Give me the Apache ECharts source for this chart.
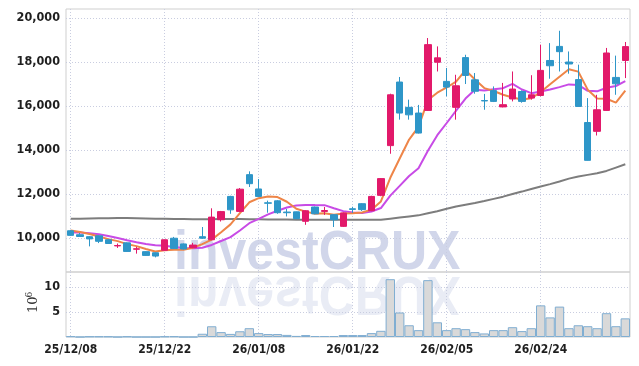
<!DOCTYPE html>
<html><head><meta charset="utf-8">
<script src="https://cdn.jsdelivr.net/npm/echarts@6/dist/echarts.min.js"></script>
<style>html,body{margin:0;padding:0;background:#fff}#c{width:639px;height:366px}</style>
</head><body><div id="c"></div>
<script>
const dates = ['25/12/08','25/12/09','25/12/10','25/12/11','25/12/12','25/12/15','25/12/16','25/12/17','25/12/18','25/12/19',
'25/12/22','25/12/23','25/12/24','25/12/26','25/12/29','25/12/30','26/01/02','26/01/05','26/01/06','26/01/07',
'26/01/08','26/01/09','26/01/12','26/01/13','26/01/14','26/01/15','26/01/16','26/01/19','26/01/20','26/01/21',
'26/01/22','26/01/23','26/01/26','26/01/27','26/01/28','26/01/29','26/01/30','26/02/02','26/02/03','26/02/04',
'26/02/05','26/02/06','26/02/09','26/02/10','26/02/11','26/02/12','26/02/13','26/02/19','26/02/20','26/02/23',
'26/02/24','26/02/25','26/02/26','26/02/27','26/03/03','26/03/04','26/03/05','26/03/06','26/03/09','26/03/10'];
const opens = [10330,10150,10060,10100,9920,9640,9780,9490,9380,9330,
9440,9990,9730,9560,10060,9920,10830,11890,11210,12880,
12230,11600,11690,11180,11190,10760,11410,11210,11060,10530,
11330,11560,11240,11940,14200,17090,15940,15680,15800,17990,
17120,15940,18200,17190,16250,16700,15960,16320,16660,16360,
16480,18070,18710,18000,17200,15250,14850,15800,17300,18070];
const closes = [10120,10070,9960,9850,9750,9660,9390,9510,9210,9180,
9920,9520,9500,9680,9990,10950,11200,11280,12220,12470,
11890,11580,11150,11150,10880,11240,11100,11250,10830,11140,
11300,11290,11890,12700,16510,15680,15600,14770,18790,18190,
16860,16920,17390,16670,16230,16210,16060,16770,16210,16510,
17620,17830,18470,17910,15980,13530,15830,18410,17010,18700];
const lows = [10100,10060,9620,9770,9740,9550,9380,9290,9200,9120,
9430,9510,9480,9540,9960,9900,10750,11100,11180,12320,
11860,11150,11100,10980,10870,10600,11080,11050,10500,10500,
11140,11230,11220,11900,13830,15380,15380,14750,15780,17570,
16440,15380,17000,16560,15830,16180,15940,16210,16150,16290,
16440,17240,17570,17470,15980,13520,14660,15780,16510,17270];
const highs = [10370,10230,10080,10120,9950,9750,9800,9600,9390,9340,
9930,10050,9750,9780,10500,11350,11230,11920,12270,13030,
12680,11700,11720,11320,11200,11260,11430,11410,11080,11160,
11420,11580,11920,12720,16560,17320,16290,16050,19090,18710,
17730,17420,18330,17500,16550,16890,17050,17570,16710,17400,
18790,18860,19420,18480,17880,16360,16510,18640,18290,18910];
const ma5 = [10345,10270,10180,10070,9950,9858,9722,9632,9504,9390,
9442,9468,9466,9560,9722,9928,10264,10620,11128,11624,
11812,11888,11862,11648,11330,11200,11104,11124,11060,11112,
11124,11162,11290,11664,12738,13614,14476,15052,16270,16606,
16842,17106,17630,17206,16814,16684,16512,16388,16296,16352,
16634,16988,17328,17668,17562,16744,16344,16332,16152,16696];
const ma10 = [10255,10250,10220,10170,10090,10000,9900,9810,9730,9670,
9650,9595,9549,9532,9556,9685,9866,10043,10344,10673,
10870,11076,11241,11388,11477,11506,11496,11493,11354,11221,
11162,11133,11207,11362,11925,12369,12819,13171,13967,14672,
15228,15791,16341,16738,16710,16763,16809,17009,16751,16583,
16659,16750,16858,16982,16957,16689,16666,16830,16910,17129];
const maLong = [10870,10880,10890,10900,10900,10910,10910,10900,10890,10880,
10870,10860,10860,10850,10850,10850,10860,10860,10860,10850,
10850,10840,10840,10840,10830,10830,10830,10830,10830,10830,
10830,10830,10830,10830,10880,10930,10980,11030,11130,11220,
11330,11430,11510,11590,11680,11780,11880,12000,12110,12230,
12340,12450,12570,12700,12800,12870,12940,13050,13200,13350];
const volumes = [0.15,0,0.1,0.1,0.1,0,0.1,0,0,0,
0.1,0.12,0,0,0.65,2.15,0.98,0.62,1.15,1.76,
0.78,0.59,0.59,0.42,0.22,0.39,0.2,0.2,0.2,0.39,
0.39,0.39,0.78,1.24,11.56,4.9,2.35,1.37,11.37,2.94,
1.37,1.76,1.57,0.98,0.71,1.37,1.37,1.96,1.18,1.76,
6.33,3.92,6.08,1.76,2.35,2.16,1.76,4.76,2.16,3.73];
const priceTicks = [10000,12000,14000,16000,18000,20000];
const volumeTicks = [5,10];

const UP = '#E2196A', DOWN = '#2E96C8';
const gridColor = '#c9cde0';
const labelFont = "'DejaVu Sans Condensed','Liberation Sans Narrow','DejaVu Sans',sans-serif";
const candleData = opens.map((o, i) => [o, closes[i], lows[i], highs[i]]);

const chart = echarts.init(document.getElementById('c'), null, {renderer: 'canvas'});
const xCommon = {
  type: 'category', data: dates, boundaryGap: true,
  axisLine: {show: false}, axisTick: {show: false},
  splitLine: {show: true, interval: 9, alignWithLabel: true, lineStyle: {color: gridColor, type: [1, 2], width: 1}}
};
const wmFont = "bold 55px 'Liberation Sans', Arial, sans-serif";
chart.setOption({
  animation: false,
  grid: [
    {left: 66, right: 9, top: 9, height: 263, show: true, borderColor: '#cfcfcf', borderWidth: 1, backgroundColor: 'transparent'},
    {left: 66, right: 9, top: 272, height: 65, show: true, borderColor: '#cfcfcf', borderWidth: 1, backgroundColor: 'transparent'}
  ],
  xAxis: [
    Object.assign({}, xCommon, {gridIndex: 0, axisLabel: {show: false}}),
    Object.assign({}, xCommon, {gridIndex: 1, axisLabel: {show: true, interval: 9, margin: 7, color: '#1e1e1e', fontSize: 12, fontWeight: 'bold', fontFamily: labelFont}})
  ],
  yAxis: [
    {type: 'value', gridIndex: 0, min: 8455, max: 20410, scale: true,
     axisLine: {show: false}, axisTick: {show: false, customValues: priceTicks},
     axisLabel: {customValues: priceTicks, color: '#1e1e1e', fontSize: 12.5, fontWeight: 'bold', fontFamily: labelFont, margin: 6},
     splitLine: {show: true, lineStyle: {color: gridColor, type: [1, 2], width: 1}}},
    {type: 'value', gridIndex: 1, min: 0, max: 13,
     axisLine: {show: false}, axisTick: {show: false, customValues: volumeTicks},
     axisLabel: {customValues: volumeTicks, color: '#1e1e1e', fontSize: 12.5, fontWeight: 'bold', fontFamily: labelFont, margin: 6},
     splitLine: {show: true, lineStyle: {color: gridColor, type: [1, 2], width: 1}}}
  ],
  graphic: [
    {type: 'group', x: 174, y: 273, scaleX: 0.91, z: -5, silent: true, children: [
      {type: 'text', x: 0, y: -19, style: {text: 'investCRUX', font: wmFont, fill: 'rgba(145,158,205,0.42)', verticalAlign: 'middle', align: 'left'}}
    ]},
    {type: 'group', x: 174, y: 273, scaleX: 0.91, scaleY: -1, z: -5, silent: true, children: [
      {type: 'text', x: 0, y: -19, style: {text: 'investCRUX', font: wmFont, fill: 'rgba(145,158,205,0.2)', verticalAlign: 'middle', align: 'left'}}
    ]},
    {type: 'text', x: 34, y: 313, rotation: Math.PI / 2, style: {text: '10', font: "13px 'DejaVu Serif', serif", fill: '#333', verticalAlign: 'middle', align: 'left'}},
    {type: 'text', x: 29.5, y: 297.5, rotation: Math.PI / 2, style: {text: '6', font: "9px 'DejaVu Serif', serif", fill: '#333', verticalAlign: 'middle', align: 'left'}}
  ],
  series: [
    {type: 'line', name: 'MA60', xAxisIndex: 0, yAxisIndex: 0, data: maLong, symbol: 'none', lineStyle: {color: '#7d7d7d', width: 2}, z: 3},
    {type: 'line', name: 'MA10', xAxisIndex: 0, yAxisIndex: 0, data: ma10, symbol: 'none', lineStyle: {color: '#C84BE6', width: 2}, z: 4},
    {type: 'line', name: 'MA5', xAxisIndex: 0, yAxisIndex: 0, data: ma5, symbol: 'none', lineStyle: {color: '#EE8548', width: 2}, z: 5},
    {type: 'candlestick', xAxisIndex: 0, yAxisIndex: 0, data: candleData, barWidth: 7, z: 6,
     itemStyle: {color: UP, color0: DOWN, borderColor: UP, borderColor0: DOWN, borderWidth: 1}},
    {type: 'bar', xAxisIndex: 1, yAxisIndex: 1, data: volumes, barCategoryGap: '0%', barWidth: '100%',
     itemStyle: {color: '#d9d9d9', borderColor: '#80aed2', borderWidth: 1}}
  ]
});
</script>
</body></html>
